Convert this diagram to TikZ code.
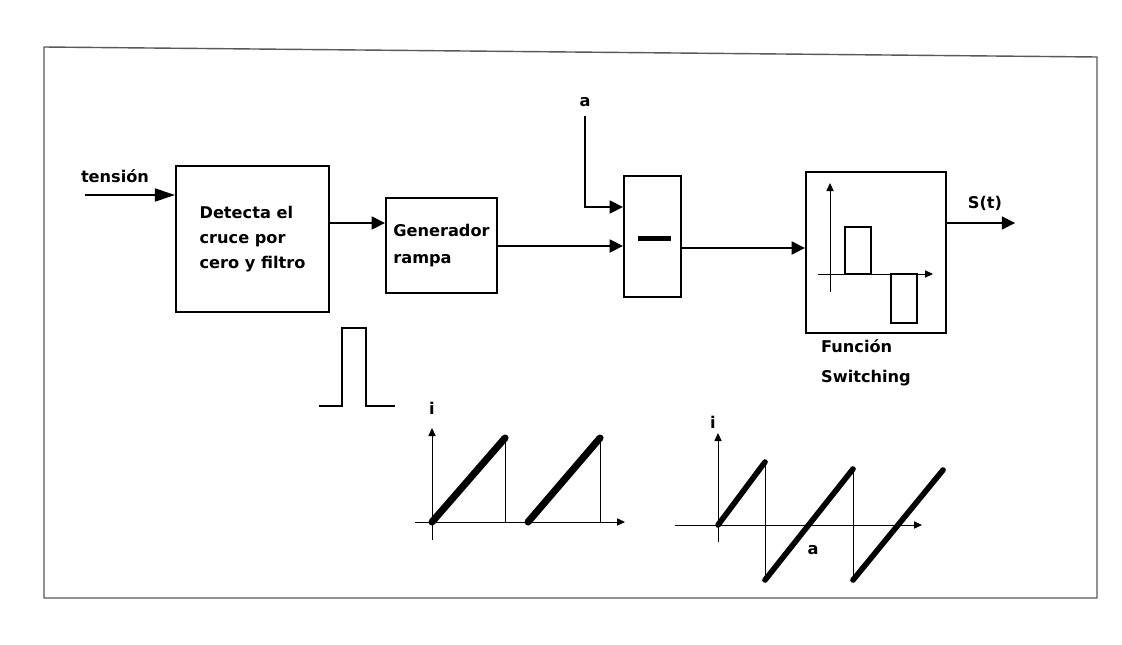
\documentclass[tikz,border=0pt]{standalone}
\usepackage{fontspec}
\setmainfont{DejaVu Sans}
\usetikzlibrary{arrows.meta, positioning, calc}

\begin{document}
\begin{tikzpicture}[
    x=0.025cm, y=-0.025cm,
    font=\fontsize{11.5}{15.5}\selectfont\bfseries,
    block/.style={draw, line width=1.6pt, inner sep=0pt, align=left},
    txt/.style={inner sep=1pt},
    arrow/.style={-{Triangle[length=0.33cm, width=0.33cm]}, line width=0.8pt},
    axis/.style={-{Triangle[length=0.2cm, width=0.18cm]}, line width=0.7pt},
    ramp/.style={line width=4pt, line cap=round},
]

% Background and frame
\useasboundingbox (0,0) rectangle (1122,644);
\fill[white] (0,0) rectangle (1122,644);
\draw[black!65, line width=1pt] (44,47) -- (1097,57) -- (1097,598) -- (44,598) -- cycle;

% Blocks
\node[block, minimum width=3.825cm, minimum height=3.65cm,
      font=\fontsize{11.5}{17.8}\selectfont\bfseries] (detect) at (252.5,239) {Detecta el\\cruce por\\cero y filtro};
\node[block, minimum width=2.775cm, minimum height=2.375cm,
      font=\fontsize{11.5}{19}\selectfont\bfseries] (gen) at (441.5,245.5) {Generador\\rampa};
\node[block, minimum width=1.425cm, minimum height=3.025cm] (minus) at (652.5,236.5) {};
\node[block, minimum width=3.5cm, minimum height=4.025cm] (sw) at (876,252.5) {};

% Minus sign
\draw[line width=3pt] ($(minus.center)+(-15,2)$) -- +(33,0);

% Switching function sketch
\draw[axis] (830,292) -- (830,183);
\draw[axis] (818,274) -- (933,274);
\draw[line width=1.3pt] (845,274) rectangle (871,227);
\draw[line width=1.3pt] (891,274) rectangle (917,323);

% Labels
\node[txt] (tlab) at (115,176) {tensión};
\node[txt] (alab) at (585,102) {a};
\node[txt] (slab) at (985,203) {S(t)};
\node[txt, align=left, font=\fontsize{11.5}{21}\selectfont\bfseries] (swlab) at (866,363) {Función\\Switching};

% Arrows
\coordinate (tin) at (85,195);
\draw[arrow, -{Triangle[length=0.5cm, width=0.33cm]}] (tin) -- (tin -| detect.west);
\draw[arrow] (detect.east |- 0,223) -- (gen.west |- 0,223);
\draw[arrow] (gen.east |- 0,246) -- (minus.west |- 0,246);
\draw[arrow, shorten <=0.2cm] (alab.south) |- (minus.west |- 0,207);
\draw[arrow] (minus.east |- 0,248) -- (sw.west |- 0,248);
\coordinate (sout) at (1015,223);
\draw[arrow] (sw.east |- sout) -- (sout);

% Pulse
\draw[line width=1.5pt] (319,406) -- (342,406) -- (342,328) -- (366,328) -- (366,406) -- (395,406);

% Ramp signal
\node[txt] (i1) at (432,408) {i};
\draw[axis] (432,540) -- (432,428);
\draw[axis] (415,522) -- (625,522);
\draw[ramp, line width=5pt] (432,522) -- (505,438);
\draw[line width=0.7pt] (505,438) -- (505,522);
\draw[ramp, line width=5pt] (528,522) -- (600,438);
\draw[line width=0.7pt] (600,438) -- (600,522);

% Shifted ramp signal
\node[txt] (i2) at (713,422) {i};
\draw[axis] (718,542) -- (718,433);
\draw[axis] (675,525) -- (922,525);
\draw[ramp] (718,525) -- (765,462);
\draw[line width=0.7pt] (765,462) -- (765,580);
\draw[ramp] (765,580) -- (853,469);
\draw[line width=0.7pt] (853,469) -- (853,580);
\draw[ramp] (853,580) -- (943,470);
\node[txt] (alab2) at (813,550) {a};

\end{tikzpicture}
\end{document}
